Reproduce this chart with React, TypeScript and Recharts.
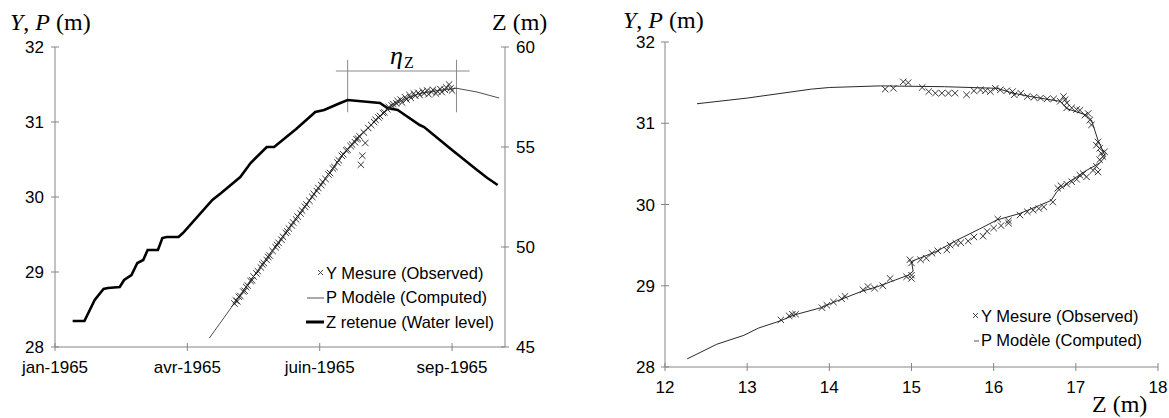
import React from 'react';
import { ComposedChart, Scatter, XAxis, YAxis, ReferenceLine, Legend } from 'recharts';

const SANS = '"Liberation Sans", Arial, Helvetica, sans-serif';
const SERIF = '"Liberation Serif", "Times New Roman", Times, serif';
const AXIS = '#858585';

// ---- left panel: levels against time, days counted from 1 jan 1965
const monthTicks = [0, 90, 180, 270];
const monthLabels = ['jan-1965', 'avr-1965', 'juin-1965', 'sep-1965'];
const yTicks = [28, 29, 30, 31, 32];
const zTicks = [45, 50, 55, 60];

// Z retenue (water level)
const zDays = [12, 20, 27, 33, 36, 44, 47, 52, 56, 60, 63, 70, 73, 76, 84, 87, 107, 113, 126, 133, 144, 149,
  164, 177, 183, 194, 199, 221, 226, 233, 236, 248, 251, 270, 287, 294, 301];
const zLevel = [46.3, 46.3, 47.35, 47.9, 47.95, 48.0, 48.35, 48.6, 49.2, 49.35, 49.85, 49.85, 50.45, 50.5, 50.5,
  50.7, 52.35, 52.7, 53.5, 54.2, 55.0, 55.0, 55.9, 56.75, 56.85, 57.2, 57.35, 57.2, 56.95, 56.85, 56.7, 56.1,
  56.0, 54.85, 53.85, 53.45, 53.1];

// P modele (computed)
const pDays = [105, 120, 144, 170, 194, 205, 217, 226, 236, 248, 260, 273, 287, 302];
const pLevel = [28.12, 28.53, 29.19, 29.88, 30.52, 30.78, 31.0, 31.16, 31.29, 31.38, 31.42, 31.45, 31.4, 31.32];

// Y mesure (observed)
const obsDays = [
  122, 123, 124, 125, 126, 128, 129, 130, 131, 133,
  134, 135, 137, 138, 140, 141, 142, 144, 145, 146,
  148, 150, 151, 152, 154, 155, 157, 158, 159, 161,
  162, 164, 165, 167, 168, 170, 171, 173, 175, 176,
  178, 179, 181, 182, 184, 186, 187, 189, 190, 192,
  193, 195, 196, 198, 199, 201, 202, 204, 205, 206,
  207, 208, 209, 210, 211, 213, 215, 217, 218, 220,
  221, 223, 224, 226, 227, 229, 230, 232, 233, 235,
  236, 238, 239, 241, 242, 244, 245, 247, 248, 250,
  251, 253, 254, 256, 257, 259, 260, 262, 263, 265,
  266, 268, 269, 270];
const obsLevel = [
  28.58, 28.62, 28.61, 28.67, 28.68, 28.74, 28.75, 28.80, 28.82, 28.88,
  28.89, 28.94, 28.98, 29.01, 29.06, 29.10, 29.12, 29.16, 29.20, 29.22,
  29.28, 29.33, 29.36, 29.39, 29.43, 29.47, 29.52, 29.54, 29.58, 29.62,
  29.66, 29.70, 29.74, 29.78, 29.82, 29.87, 29.90, 29.95, 30.00, 30.04,
  30.08, 30.12, 30.16, 30.20, 30.24, 30.30, 30.32, 30.38, 30.40, 30.46,
  30.49, 30.55, 30.57, 30.62, 30.63, 30.68, 30.70, 30.73, 30.77, 30.78,
  30.81, 30.43, 30.55, 30.86, 30.72, 30.92, 30.96, 31.00, 31.03, 31.06,
  31.08, 31.12, 31.13, 31.17, 31.20, 31.22, 31.24, 31.25, 31.28, 31.30,
  31.26, 31.33, 31.30, 31.36, 31.32, 31.38, 31.35, 31.39, 31.36, 31.41,
  31.38, 31.42, 31.37, 31.40, 31.43, 31.38, 31.41, 31.44, 31.40, 31.43,
  31.46, 31.50, 31.45, 31.42];

// ---- right panel: levels against Z
const zAxisTicks = [12, 13, 14, 15, 16, 17, 18];

const pathZ = [12.27, 12.63, 12.96, 13.14, 13.41, 13.57, 13.9, 14.06, 14.39, 14.59, 14.96, 15.02, 15.0, 15.1,
  15.3, 15.55, 15.83, 16.04, 16.32, 16.56, 16.7, 16.77, 16.89, 17.13, 17.29, 17.36, 17.27, 17.19, 17.13,
  16.89, 16.81, 16.44, 16.24, 16.04, 15.4, 14.62, 14.0, 13.78, 13.0, 12.39];
const pathP = [28.1, 28.28, 28.39, 28.48, 28.57, 28.64, 28.73, 28.8, 28.93, 28.99, 29.13, 29.18, 29.3, 29.34,
  29.42, 29.56, 29.7, 29.81, 29.89, 29.99, 30.05, 30.16, 30.26, 30.42, 30.51, 30.59, 30.79, 31.04, 31.1,
  31.18, 31.27, 31.33, 31.37, 31.43, 31.45, 31.46, 31.44, 31.42, 31.31, 31.24];

const obsZ = [
  13.41, 13.51, 13.55, 13.59, 13.91, 13.97, 14.05, 14.15, 14.19, 14.41,
  14.47, 14.55, 14.65, 14.74, 14.94, 15.0, 15.0, 14.98, 15.0, 15.11,
  15.18, 15.25, 15.32, 15.43, 15.47, 15.54, 15.6, 15.69, 15.76, 15.87,
  15.92, 16.0, 16.09, 16.18, 16.05, 16.18, 16.32, 16.41, 16.48, 16.55,
  16.61, 16.72, 16.78, 16.82, 16.89, 16.95, 17.01, 17.05, 17.09, 17.13,
  17.21, 17.25, 17.27, 17.29, 17.33, 17.31, 17.35, 17.29, 17.25, 17.27,
  17.19, 17.17, 17.15, 17.11, 17.05, 17.01, 16.95, 16.89, 16.89, 16.87,
  16.85, 16.81, 16.73, 16.65, 16.57, 16.49, 16.41, 16.33, 16.25, 16.23,
  16.16, 16.08, 16.02, 15.96, 15.9, 15.84, 15.76, 15.67, 15.53, 15.45,
  15.37, 15.29, 15.21, 15.13, 14.96, 14.9, 14.78, 14.68];
const obsY = [
  28.58, 28.63, 28.65, 28.65, 28.73, 28.76, 28.8, 28.84, 28.87, 28.95,
  28.99, 28.97, 29.0, 29.09, 29.11, 29.13, 29.09, 29.32, 29.28, 29.32,
  29.34, 29.4, 29.43, 29.44, 29.5, 29.52, 29.53, 29.55, 29.6, 29.61,
  29.67, 29.71, 29.74, 29.8, 29.82, 29.77, 29.87, 29.91, 29.93, 29.95,
  29.97, 30.03, 30.2, 30.23, 30.25, 30.28, 30.31, 30.36, 30.38, 30.34,
  30.42, 30.47, 30.4, 30.55, 30.59, 30.63, 30.65, 30.69, 30.73, 30.77,
  30.98, 31.04, 31.12, 31.1, 31.16, 31.17, 31.19, 31.19, 31.25, 31.29,
  31.33, 31.27, 31.3, 31.3, 31.31, 31.32, 31.33, 31.37, 31.35, 31.39,
  31.4, 31.41, 31.43, 31.39, 31.4, 31.41, 31.4, 31.35, 31.37, 31.37,
  31.37, 31.37, 31.39, 31.44, 31.5, 31.51, 31.43, 31.42];

const OBS = 'Y Mesure (Observed)';
const MOD = 'P Modèle (Computed)';
const LVL = 'Z retenue (Water level)';

const toPts = (xs: number[], ys: number[]) => xs.map((x, i) => ({ x, y: ys[i] }));

const zData = toPts(zDays, zLevel);
const pData = toPts(pDays, pLevel);
const obsData = toPts(obsDays, obsLevel);
const pathData = toPts(pathZ, pathP);
const obsZData = toPts(obsZ, obsY);

const zPeakDay = zDays[zLevel.indexOf(Math.max(...zLevel))];
const pPeakDay = pDays[pLevel.indexOf(Math.max(...pLevel))];

const Cross = (p: any) => {
  const { cx, cy } = p;
  const r = 3.2;
  return (
    <path d={`M${cx - r},${cy - r}L${cx + r},${cy + r}M${cx - r},${cy + r}L${cx + r},${cy - r}`}
      stroke="#1f1f1f" strokeWidth={0.9} fill="none" />
  );
};
const NoDot = () => <g />;

const label = (x: number, y: number, txt: string, anchor: 'start' | 'middle' | 'end') => (
  <text x={x} y={y} textAnchor={anchor} fontFamily={SANS} fontSize={17} fill="#000">{txt}</text>
);

const tickLeft = (gap: number) => (p: any) => (
  <g>
    <line x1={p.x - 4} x2={p.x + 4} y1={p.y} y2={p.y} stroke={AXIS} />
    {label(p.x - gap, p.y + 6, String(p.payload.value), 'end')}
  </g>
);
const tickRight = (p: any) => (
  <g>
    <line x1={p.x - 4} x2={p.x + 4} y1={p.y} y2={p.y} stroke={AXIS} />
    {label(p.x + 11, p.y + 6, String(p.payload.value), 'start')}
  </g>
);
const tickBottom = (fmt: (v: number) => string, dy: number) => (p: any) => (
  <g>
    <line x1={p.x} x2={p.x} y1={p.y - 4} y2={p.y + 4} stroke={AXIS} />
    {label(p.x, p.y + dy, fmt(p.payload.value), 'middle')}
  </g>
);

const symbols: Record<string, (w: number) => React.ReactNode> = {
  [OBS]: (w) => <path d={`M${w - 6},3L${w - 1},8M${w - 6},8L${w - 1},3`} stroke="#333" strokeWidth={0.9} />,
  [MOD]: (w) => <line x1={w > 10 ? 1 : w - 5} x2={w} y1={6} y2={6} stroke="#555" strokeWidth={1} />,
  [LVL]: (w) => <line x1={0} x2={w} y1={6} y2={6} stroke="#000" strokeWidth={3} />,
};

const legendContent = (order: string[], symW: number, rowH: number) => (props: any) => {
  const names = (props.payload || []).map((e: any) => e.value);
  return (
    <div style={{ fontFamily: SANS, fontSize: 16.5, color: '#000' }}>
      {order.filter((n) => names.includes(n)).map((n) => (
        <div key={n} style={{ display: 'flex', alignItems: 'center', height: rowH, whiteSpace: 'nowrap' }}>
          <svg width={symW} height={12} style={{ marginRight: 2 }}>{symbols[n](symW)}</svg>
          <span>{n}</span>
        </div>
      ))}
    </div>
  );
};

const monthFmt = (v: number) => monthLabels[monthTicks.indexOf(v)] ?? '';

const LeftChart = () => (
  <ComposedChart width={560} height={418} margin={{ top: 47, right: 0, bottom: 41, left: 0 }}>
    <XAxis type="number" dataKey="x" domain={[0, 306]} ticks={monthTicks} interval={0}
      axisLine={{ stroke: AXIS }} tickLine={false} tickSize={0} tickMargin={0} height={30}
      tick={tickBottom(monthFmt, 26)} allowDataOverflow />
    <YAxis yAxisId="y" type="number" dataKey="y" domain={[28, 32]} ticks={yTicks} interval={0} width={55}
      axisLine={{ stroke: AXIS }} tickLine={false} tickSize={0} tickMargin={0} tick={tickLeft(11)} allowDataOverflow />
    <YAxis yAxisId="z" orientation="right" type="number" dataKey="y" domain={[45, 60]} ticks={zTicks} interval={0}
      width={55} axisLine={{ stroke: AXIS }} tickLine={false} tickSize={0} tickMargin={0} tick={tickRight} />
    <ReferenceLine yAxisId="y" stroke="#8a8a8a" strokeWidth={1}
      segment={[{ x: zPeakDay - 8, y: 31.68 }, { x: pPeakDay + 9, y: 31.68 }]} />
    <ReferenceLine yAxisId="y" stroke="#8a8a8a" strokeWidth={1}
      segment={[{ x: zPeakDay, y: 31.83 }, { x: zPeakDay, y: 31.13 }]} />
    <ReferenceLine yAxisId="y" stroke="#8a8a8a" strokeWidth={1}
      segment={[{ x: pPeakDay, y: 31.83 }, { x: pPeakDay, y: 31.13 }]} />
    <Scatter name={LVL} yAxisId="z" data={zData} fill="#000" shape={NoDot} lineType="joint"
      line={{ stroke: '#000', strokeWidth: 2.6 }} isAnimationActive={false} />
    <Scatter name={MOD} yAxisId="y" data={pData} fill="#000" shape={NoDot} lineType="joint"
      line={{ stroke: '#222', strokeWidth: 0.8 }} isAnimationActive={false} />
    <Scatter name={OBS} yAxisId="y" data={obsData} fill="#000" shape={Cross} isAnimationActive={false} />
    <Legend layout="vertical" align="center" verticalAlign="middle"
      wrapperStyle={{ left: 306, top: 261, width: 230 }}
      content={legendContent([OBS, MOD, LVL], 18, 24.5)} />
  </ComposedChart>
);

const RightChart = () => (
  <ComposedChart width={569} height={418} margin={{ top: 42, right: 11, bottom: 21, left: 0 }}>
    <XAxis type="number" dataKey="x" domain={[12, 18]} ticks={zAxisTicks} interval={0}
      axisLine={{ stroke: AXIS }} tickLine={false} tickSize={0} tickMargin={0} height={30}
      tick={tickBottom((v) => String(v), 26)} allowDataOverflow />
    <YAxis type="number" dataKey="y" domain={[28, 32]} ticks={yTicks} interval={0} width={65}
      axisLine={{ stroke: AXIS }} tickLine={false} tickSize={0} tickMargin={0} tick={tickLeft(10)} allowDataOverflow />
    <Scatter name={MOD} data={pathData} fill="#000" shape={NoDot} lineType="joint"
      line={{ stroke: '#111', strokeWidth: 0.9 }} isAnimationActive={false} />
    <Scatter name={OBS} data={obsZData} fill="#000" shape={Cross} isAnimationActive={false} />
    <Legend layout="vertical" align="center" verticalAlign="middle"
      wrapperStyle={{ left: 369, top: 304, width: 200 }}
      content={legendContent([OBS, MOD], 10, 24.5)} />
  </ComposedChart>
);

export default function App() {
  return (
    <div style={{ position: 'absolute', left: 0, top: 0, width: 1169, height: 418, background: '#fff' }}>
      <div style={{ position: 'absolute', left: 0, top: 0 }}><LeftChart /></div>
      <div style={{ position: 'absolute', left: 600, top: 0 }}><RightChart /></div>
      <svg width={1169} height={418} style={{ position: 'absolute', left: 0, top: 0, pointerEvents: 'none' }}>
        <g fontFamily={SERIF} fontSize={24} fill="#000">
          <text x={10} y={30}><tspan fontStyle="italic">Y</tspan>, <tspan fontStyle="italic">P</tspan> (m)</text>
          <text x={492} y={30}>Z (m)</text>
          <text x={623} y={28}><tspan fontStyle="italic">Y</tspan>, <tspan fontStyle="italic">P</tspan> (m)</text>
          <text x={1092} y={412}>Z (m)</text>
          <text x={390} y={64} fontStyle="italic" fontSize={26}>η</text>
          <text x={404} y={68} fontSize={16}>Z</text>
        </g>
      </svg>
    </div>
  );
}
